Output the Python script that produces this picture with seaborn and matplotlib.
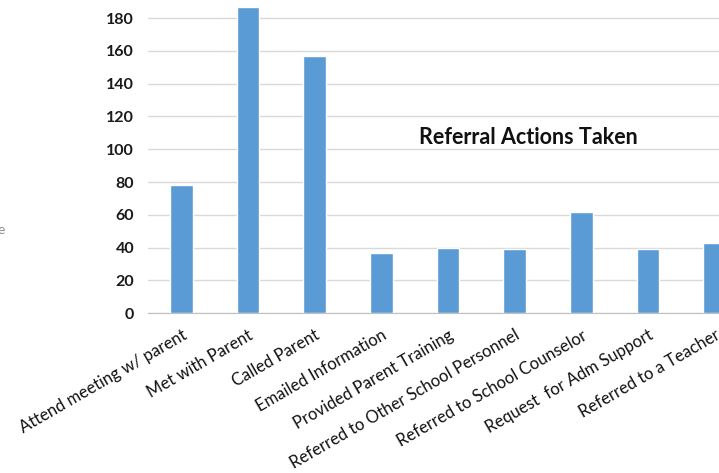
import matplotlib
matplotlib.use('Agg')
import matplotlib.pyplot as plt
import seaborn as sns
import pandas as pd

# values
actions = ['Attend meeting w/ parent', 'Met with Parent', 'Called Parent',
           'Emailed Information', 'Provided Parent Training',
           'Referred to Other School Personnel', 'Referred to School Counselor',
           'Request  for Adm Support', 'Referred to a Teacher']
counts = [78, 187, 157, 37, 40, 39, 62, 39, 43]
yticks = [0, 20, 40, 60, 80, 100, 120, 140, 160, 180]

df = pd.DataFrame({'action': actions, 'count': counts})

sns.set_style('white')
plt.rcParams['font.family'] = ['Lato', 'DejaVu Sans']

fig = plt.figure(figsize=(7.19, 4.73), dpi=100)
# the original picture is cropped on the right, so the axes run past the edge
ax = fig.add_axes([148 / 719, 1 - 313.3 / 473, 600 / 719, 313.3 / 473])

sns.barplot(data=df, x='action', y='count', color='#5B9BD5', width=0.34,
            saturation=1, ax=ax, zorder=3)

ax.set_ylim(0, 191)
ax.set_xlim(-0.5, len(actions) - 0.5)
ax.set_yticks(yticks)
ax.set_yticklabels([str(v) for v in yticks], fontsize=11.5, fontweight='bold',
                   color='#1a1a1a')
ax.yaxis.grid(True, color='#d9d9d9', linewidth=1, zorder=0)
ax.set_axisbelow(True)
for side in ['top', 'right', 'left']:
    ax.spines[side].set_visible(False)
ax.spines['bottom'].set_color('#bfbfbf')
ax.tick_params(axis='y', length=0, pad=10)
ax.tick_params(axis='x', length=0, pad=10)
ax.set_xticks(range(len(actions)))
ax.set_xticklabels(actions, rotation=30, ha='right', rotation_mode='anchor',
                   fontsize=12, color='#111111')
ax.set_xlabel('')
ax.set_ylabel('')

ax.text(528 / 719, 1 - 138 / 473, 'Referral Actions Taken', transform=fig.transFigure,
        ha='center', va='center', fontsize=15.5, fontweight='bold', color='#111111')

# cropped remnant of a label at the left edge
fig.text(-0.004, 1 - 230 / 473, 'e', fontsize=10, color='#8c8c8c',
         ha='left', va='center')

fig.savefig('out.png', dpi=100)
